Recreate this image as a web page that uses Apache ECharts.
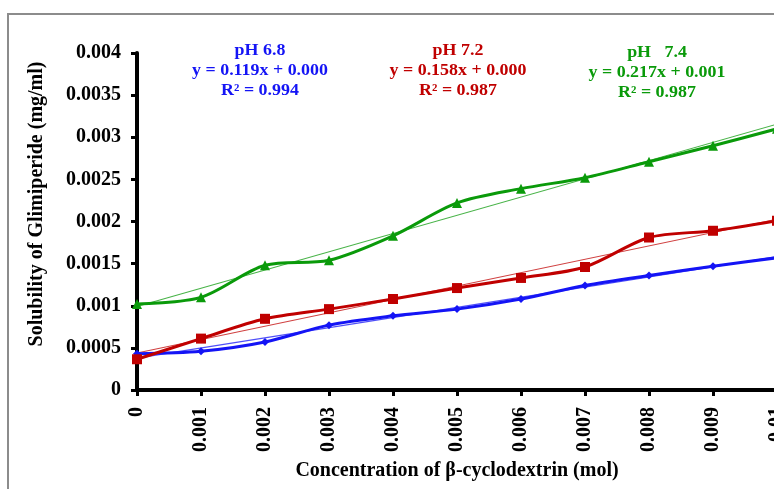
<!DOCTYPE html>
<html>
<head>
<meta charset="utf-8">
<script src="https://cdn.jsdelivr.net/npm/echarts@6/dist/echarts.min.js"></script>
<style>
html,body{margin:0;padding:0;background:#fff;}
#chart{width:774px;height:489px;}
</style>
</head>
<body>
<div id="chart"></div>
<script>
// ---- data ----
var concentrations = [0, 0.001, 0.002, 0.003, 0.004, 0.005, 0.006, 0.007, 0.008, 0.009, 0.01];
var ph68 = [0.00043, 0.00046, 0.00057, 0.00077, 0.00088, 0.00096, 0.00108, 0.00124, 0.00136, 0.00147, 0.00157];
var ph72 = [0.000365, 0.00061, 0.000845, 0.00096, 0.00108, 0.00121, 0.00133, 0.00146, 0.00181, 0.00189, 0.00201];
var ph74 = [0.00102, 0.0011, 0.00148, 0.00154, 0.00183, 0.00222, 0.00239, 0.00252, 0.00271, 0.0029, 0.0031];
var yTickLabels = ['0', '0.0005', '0.001', '0.0015', '0.002', '0.0025', '0.003', '0.0035', '0.004'];
var xTickLabels = ['0', '0.001', '0.002', '0.003', '0.004', '0.005', '0.006', '0.007', '0.008', '0.009', '0.01'];
var seriesNames = ['pH 6.8', 'pH 7.2', 'pH 7.4'];
var annotations = [
  ['pH 6.8', 'y = 0.119x + 0.000', 'R² = 0.994'],
  ['pH 7.2', 'y = 0.158x + 0.000', 'R² = 0.987'],
  ['pH   7.4', 'y = 0.217x + 0.001', 'R² = 0.987']
];
var xAxisTitle = 'Concentration of β-cyclodextrin (mol)';
var yAxisTitle = 'Solubility of Glimiperide (mg/ml)';

// ---- helpers ----
function pairs(ys) { return concentrations.map(function (x, i) { return [x, ys[i]]; }); }
function trend(ys) {
  var n = ys.length, sx = 0, sy = 0, sxx = 0, sxy = 0;
  for (var i = 0; i < n; i++) { var x = concentrations[i]; sx += x; sy += ys[i]; sxx += x * x; sxy += x * ys[i]; }
  var b = (n * sxy - sx * sy) / (n * sxx - sx * sx);
  var a = (sy - b * sx) / n;
  var x0 = concentrations[0], x1 = concentrations[n - 1];
  return [[x0, a + b * x0], [x1, a + b * x1]];
}

var colors = ['#1414F5', '#C00000', '#0A9A0A'];
var symbols = ['diamond', 'rect', 'triangle'];
var symSizes = [8, 10, 10];
var datasets = [ph68, ph72, ph74];
var FONT = '"Liberation Serif", "Times New Roman", serif';

var series = [];
datasets.forEach(function (d, i) {
  series.push({
    name: seriesNames[i] + ' trend', type: 'line', data: trend(d), symbol: 'none',
    lineStyle: { color: colors[i], width: 1.1, opacity: 0.75 }, z: 2, silent: true
  });
});
datasets.forEach(function (d, i) {
  series.push({
    name: seriesNames[i], type: 'line', data: pairs(d), smooth: 0.3,
    symbol: symbols[i], symbolSize: symSizes[i],
    itemStyle: { color: colors[i] },
    lineStyle: { color: colors[i], width: 3 }, z: 3
  });
});

var centersX = [260, 458, 657];
var graphics = [
  { type: 'rect', shape: { x: 8, y: 14, width: 900, height: 600 }, style: { fill: 'none', stroke: '#8c8c8c', lineWidth: 2 }, z: -1 },
  { type: 'text', x: 37, y: 204, rotation: Math.PI / 2,
    style: { text: yAxisTitle, font: 'bold 20px ' + FONT, fill: '#000', align: 'center', verticalAlign: 'middle' } }
];
annotations.forEach(function (lines, i) {
  var ys = [51, 71, 91];
  lines.forEach(function (t, j) {
    graphics.push({ type: 'text', x: centersX[i], y: ys[j] + (i === 2 ? 2 : 0), scaleX: 1.12,
      style: { text: t, font: 'bold 16px ' + FONT, fill: colors[i], align: 'center', verticalAlign: 'middle' } });
  });
});

var chart = echarts.init(document.getElementById('chart'), null, { renderer: 'canvas' });
chart.setOption({
  animation: false,
  backgroundColor: '#fff',
  grid: { left: 137, top: 53, right: -3, bottom: 99, containLabel: false, outerBoundsMode: 'none' },
  xAxis: {
    type: 'value', min: 0, max: 0.01, interval: 0.001,
    splitLine: { show: false },
    axisLine: { lineStyle: { color: '#000', width: 4 } },
    axisTick: { show: true, length: 6, lineStyle: { color: '#000', width: 3 } },
    axisLabel: {
      rotate: 90, margin: 17, color: '#000', fontWeight: 'bold', fontSize: 20, fontFamily: FONT,
      hideOverlap: false, showMaxLabel: true, showMinLabel: true,
      formatter: function (v) { return xTickLabels[Math.round(v / 0.001)]; }
    },
    name: xAxisTitle, nameLocation: 'middle', nameGap: 71,
    nameTextStyle: { color: '#000', fontWeight: 'bold', fontSize: 20, fontFamily: FONT }
  },
  yAxis: {
    type: 'value', min: 0, max: 0.004, interval: 0.0005,
    splitLine: { show: false },
    axisLine: { show: true, lineStyle: { color: '#000', width: 4 } },
    axisTick: { show: true, length: 6, lineStyle: { color: '#000', width: 3 } },
    axisLabel: {
      margin: 16, color: '#000', fontWeight: 'bold', fontSize: 20, fontFamily: FONT,
      formatter: function (v) { return yTickLabels[Math.round(v / 0.0005)]; }
    }
  },
  series: series,
  graphic: graphics
});
</script>
</body>
</html>
